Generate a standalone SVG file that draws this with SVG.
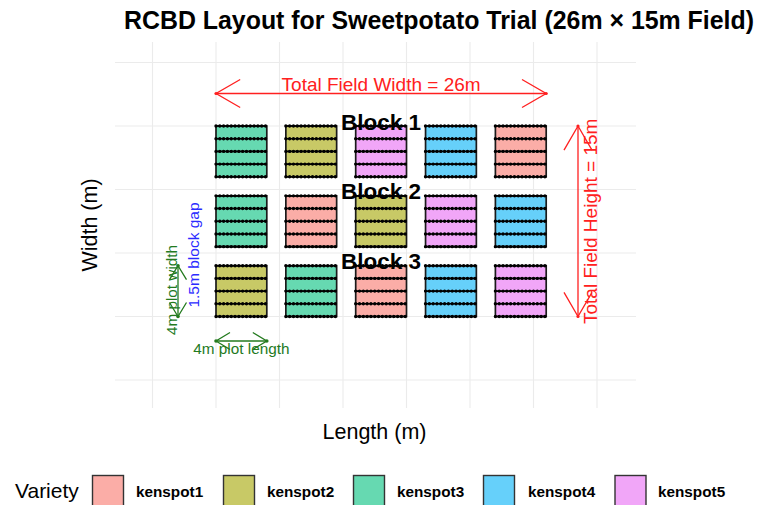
<svg xmlns="http://www.w3.org/2000/svg" width="764" height="505" viewBox="0 0 764 505">
  <style>
    text { font-family: "Liberation Sans", Arial, sans-serif; }
    .grid { stroke: #EBEBEB; stroke-width: 1.1; fill: none; }
    .plot { stroke: #1a1a1a; stroke-width: 1.7; }
    .k1 { fill: #FBADA7; } .k2 { fill: #C8C966; } .k3 { fill: #66D9B1; }
    .k4 { fill: #66D0FA; } .k5 { fill: #F1A6F8; }
    .row { stroke: #000; stroke-width: 1.6; fill: none; }
    .dots { stroke: #000; stroke-width: 3.4; stroke-linecap: round; stroke-dasharray: 0 3.81; fill: none; }
    .block { font-size: 22.5px; font-weight: bold; text-anchor: middle; fill: #000; }
    .red { stroke: #FF2020; stroke-width: 1.3; fill: none; }
    .green { stroke: #237A1E; stroke-width: 1.3; fill: none; }
    .redtxt { fill: #FF2020; font-size: 19px; text-anchor: middle; }
    .greentxt { fill: #237A1E; font-size: 15.3px; text-anchor: middle; }
    .bluetxt { fill: #2B2BFF; font-size: 15.5px; text-anchor: middle; }
    .axis { font-size: 21.5px; text-anchor: middle; fill: #000; }
    .key { stroke: #333; stroke-width: 1.4; }
    .keytxt { font-size: 15.3px; font-weight: bold; fill: #000; }
  </style>
  <defs>
    <!-- five planting ridges per plot, 1 m apart, plants every 0.3 m -->
    <g id="plant-rows">
      <path class="row" d="M0,0H50.8M0,12.7H50.8M0,25.4H50.8M0,38.1H50.8M0,50.8H50.8"/>
      <path class="dots" d="M0,0H50.8M0,12.7H50.8M0,25.4H50.8M0,38.1H50.8M0,50.8H50.8"/>
    </g>
    <marker id="head-red" markerUnits="userSpaceOnUse" viewBox="-30 -30 60 60" markerWidth="60" markerHeight="60" refX="0" refY="0" orient="auto-start-reverse" overflow="visible">
      <path d="M-24.2,-14L0,0L-24.2,14" fill="none" stroke="#FF2020" stroke-width="1.3"/>
      <circle r="1.6" fill="#FF2020"/>
    </marker>
    <marker id="head-green" markerUnits="userSpaceOnUse" viewBox="-20 -20 40 40" markerWidth="40" markerHeight="40" refX="0" refY="0" orient="auto-start-reverse" overflow="visible">
      <path d="M-14,-8.5L0,0L-14,8.5" fill="none" stroke="#237A1E" stroke-width="1.3"/>
      <circle r="1.8" fill="#237A1E"/>
    </marker>
  </defs>

  <rect width="764" height="505" fill="#fff"/>

  <!-- panel grid: 5 m spacing, 12.7 px per metre -->
  <g id="grid" class="grid">
    <path d="M152.5,42V408M216,42V408M279.5,42V408M343,42V408M406.5,42V408M470,42V408M533.5,42V408M597,42V408"/>
    <path d="M115,62.5H636M115,126H636M115,189.5H636M115,253H636M115,316.5H636M115,380H636"/>
  </g>

  <!-- title -->
  <text x="439" y="29" font-size="24.9" font-weight="bold" text-anchor="middle">RCBD Layout for Sweetpotato Trial (26m × 15m Field)</text>

  <!-- Block 1 -->
  <g id="plot-b1-c1"><rect class="plot k3" x="216" y="126" width="50.8" height="50.8"/><use href="#plant-rows" x="216" y="126"/></g>
  <g id="plot-b1-c2"><rect class="plot k2" x="285.85" y="126" width="50.8" height="50.8"/><use href="#plant-rows" x="285.85" y="126"/></g>
  <g id="plot-b1-c3"><rect class="plot k5" x="355.7" y="126" width="50.8" height="50.8"/><use href="#plant-rows" x="355.7" y="126"/></g>
  <g id="plot-b1-c4"><rect class="plot k4" x="425.55" y="126" width="50.8" height="50.8"/><use href="#plant-rows" x="425.55" y="126"/></g>
  <g id="plot-b1-c5"><rect class="plot k1" x="495.4" y="126" width="50.8" height="50.8"/><use href="#plant-rows" x="495.4" y="126"/></g>

  <!-- Block 2 -->
  <g id="plot-b2-c1"><rect class="plot k3" x="216" y="195.85" width="50.8" height="50.8"/><use href="#plant-rows" x="216" y="195.85"/></g>
  <g id="plot-b2-c2"><rect class="plot k1" x="285.85" y="195.85" width="50.8" height="50.8"/><use href="#plant-rows" x="285.85" y="195.85"/></g>
  <g id="plot-b2-c3"><rect class="plot k2" x="355.7" y="195.85" width="50.8" height="50.8"/><use href="#plant-rows" x="355.7" y="195.85"/></g>
  <g id="plot-b2-c4"><rect class="plot k5" x="425.55" y="195.85" width="50.8" height="50.8"/><use href="#plant-rows" x="425.55" y="195.85"/></g>
  <g id="plot-b2-c5"><rect class="plot k4" x="495.4" y="195.85" width="50.8" height="50.8"/><use href="#plant-rows" x="495.4" y="195.85"/></g>

  <!-- Block 3 -->
  <g id="plot-b3-c1"><rect class="plot k2" x="216" y="265.7" width="50.8" height="50.8"/><use href="#plant-rows" x="216" y="265.7"/></g>
  <g id="plot-b3-c2"><rect class="plot k3" x="285.85" y="265.7" width="50.8" height="50.8"/><use href="#plant-rows" x="285.85" y="265.7"/></g>
  <g id="plot-b3-c3"><rect class="plot k1" x="355.7" y="265.7" width="50.8" height="50.8"/><use href="#plant-rows" x="355.7" y="265.7"/></g>
  <g id="plot-b3-c4"><rect class="plot k4" x="425.55" y="265.7" width="50.8" height="50.8"/><use href="#plant-rows" x="425.55" y="265.7"/></g>
  <g id="plot-b3-c5"><rect class="plot k5" x="495.4" y="265.7" width="50.8" height="50.8"/><use href="#plant-rows" x="495.4" y="265.7"/></g>

  <!-- block labels -->
  <g id="block-labels">
    <text class="block" x="381.1" y="130">Block 1</text>
    <text class="block" x="381.1" y="198.5">Block 2</text>
    <text class="block" x="381.1" y="268.5">Block 3</text>
  </g>

  <!-- dimension arrows -->
  <g id="connectors">
    <line class="red" x1="216" y1="93.5" x2="546.2" y2="93.5" marker-start="url(#head-red)" marker-end="url(#head-red)"/>
    <line class="red" x1="578" y1="316.5" x2="578" y2="126" marker-start="url(#head-red)" marker-end="url(#head-red)"/>
    <line class="green" x1="178" y1="316.5" x2="178" y2="265.7" marker-start="url(#head-green)" marker-end="url(#head-green)"/>
    <line class="green" x1="216" y1="341" x2="266.8" y2="341" marker-start="url(#head-green)" marker-end="url(#head-green)"/>
  </g>

  <!-- dimension labels -->
  <g id="dimension-labels">
    <text class="redtxt" x="381.1" y="90.5">Total Field Width = 26m</text>
    <text class="redtxt" transform="translate(597,221.3) rotate(-90)">Total Field Height = 15m</text>
    <text class="bluetxt" transform="translate(198.5,255) rotate(-90)">1.5m block gap</text>
    <text class="greentxt" transform="translate(176.5,290) rotate(-90)">4m plot width</text>
    <text class="greentxt" x="241.4" y="353.5">4m plot length</text>
  </g>

  <!-- axis titles -->
  <text class="axis" x="374.5" y="439">Length (m)</text>
  <text class="axis" transform="translate(97,225) rotate(-90)">Width (m)</text>

  <!-- legend -->
  <g id="legend">
    <text x="15" y="498" font-size="21">Variety</text>
    <rect class="key k1" x="92.5" y="475.5" width="31" height="31"/>
    <text class="keytxt" x="136" y="497">kenspot1</text>
    <rect class="key k2" x="223.5" y="475.5" width="31" height="31"/>
    <text class="keytxt" x="267" y="497">kenspot2</text>
    <rect class="key k3" x="353.5" y="475.5" width="31" height="31"/>
    <text class="keytxt" x="397" y="497">kenspot3</text>
    <rect class="key k4" x="483.5" y="475.5" width="31" height="31"/>
    <text class="keytxt" x="528" y="497">kenspot4</text>
    <rect class="key k5" x="615" y="475.5" width="31" height="31"/>
    <text class="keytxt" x="658" y="497">kenspot5</text>
  </g>
</svg>
